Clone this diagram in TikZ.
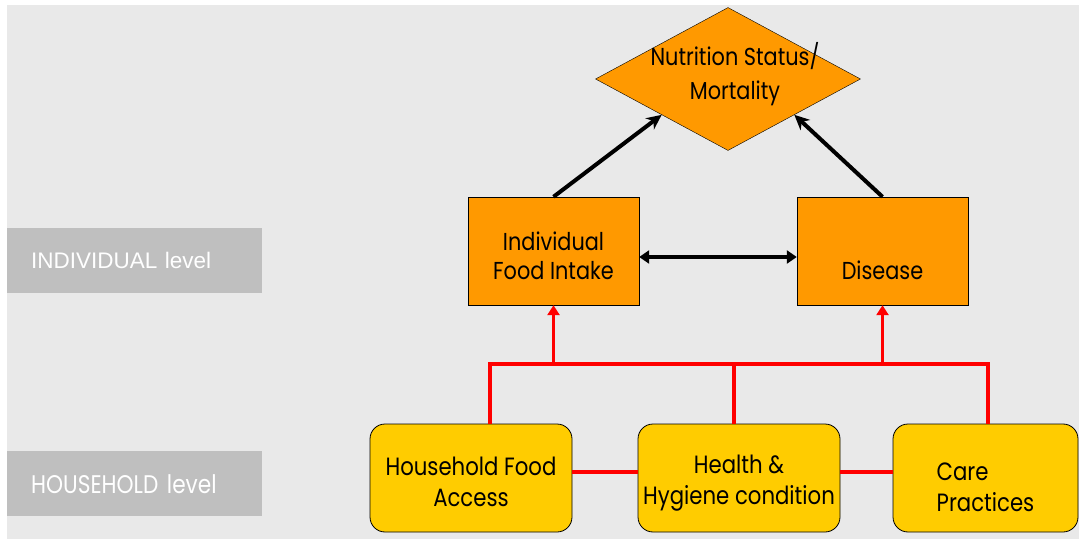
\documentclass[tikz,border=0pt]{standalone}
\usepackage{fontspec}
\setmainfont{Poppins}[FakeStretch=0.85]
\newfontfamily\lvlfont{Liberation Sans}
\usetikzlibrary{shapes.geometric, arrows.meta}
\definecolor{bggray}{HTML}{E9E9E9}
\definecolor{lvlgray}{HTML}{BFBFBF}
\definecolor{dorange}{HTML}{FF9900}
\definecolor{dyellow}{HTML}{FFCC00}
\begin{document}
\begin{tikzpicture}[x=1pt, y=-1pt,
    factor/.style={rectangle, draw, fill=dorange, minimum width=171pt, minimum height=108pt, align=center, text height=58pt, font=\fontsize{24.5}{29}\selectfont},
    hhbox/.style={rectangle, draw, thick, rounded corners=15pt, fill=dyellow, minimum width=202pt, minimum height=108pt, align=center, inner xsep=0pt, text height=58pt, font=\fontsize{25}{31}\selectfont},
    lvlbox/.style={rectangle, fill=lvlgray, minimum height=65pt, inner xsep=24pt, text width=207pt, align=left, text=white},
    arrow/.style={-{Stealth[length=15pt, width=14pt]}, line width=4pt},
    dblarrow/.style={{Triangle[length=10pt, width=13pt]}-{Triangle[length=10pt, width=13pt]}, line width=4pt},
    redline/.style={red, line width=3.5pt},
    redarrow/.style={redline, -{Triangle[length=10pt, width=12pt]}}
]
% Background
\useasboundingbox (0,0) rectangle (1079,540);
\fill[bggray] (7,5) rectangle (1079,539);

% Level labels
\node[lvlbox, anchor=north west, font=\lvlfont\fontsize{22.5}{26}\selectfont] (indlvl) at (7,228) {INDIVIDUAL level};
\node[lvlbox, anchor=north west, font=\fontsize{25.5}{30}\selectfont] (hhlvl) at (7,451) {HOUSEHOLD level};

% Outcome
\node[diamond, draw, fill=dorange, minimum width=265pt, minimum height=143pt] (nut) at (728,79) {};
\node[align=center, font=\fontsize{24.5}{34}\selectfont] (nuttxt) at (735,74) {Nutrition Status/\\Mortality};

% Individual level
\node[factor] (ifi) at (553.5,251) {Individual\\Food Intake};
\node[factor] (dis) at (882.5,251) {\vphantom{Food Intake}\\Disease};

% Household level
\node[hhbox] (hfa) at (471,478) {Household Food\\Access};
\node[hhbox, text height=60pt] (hhc) at (739,478) {Health \&\\Hygiene condition};
\node[hhbox, minimum width=185pt, align=left, text height=67pt] (care) at (985.5,478) {Care\\Practices};

% Arrows
\draw[arrow] (ifi.north) -- (nut.south west);
\draw[arrow] (dis.north) -- (nut.south east);
\draw[dblarrow] ([yshift=-6pt]ifi.east) -- ([yshift=-6pt]dis.west);

% Household links
\coordinate (jl) at (490,364);
\coordinate (jm) at (734,364);
\coordinate (jr) at (988,364);
\draw[redline] (jl |- hfa.north) -- (jl) -- (jr) -- (jr |- care.north);
\draw[redline] (jm) -- (jm |- hhc.north);
\draw[redarrow] (ifi.south |- jl) -- (ifi.south);
\draw[redarrow] (dis.south |- jl) -- (dis.south);
\draw[redline] ([yshift=6pt]hfa.east) -- ([yshift=6pt]hhc.west);
\draw[redline] ([yshift=6pt]hhc.east) -- ([yshift=6pt]care.west);
\end{tikzpicture}
\end{document}
